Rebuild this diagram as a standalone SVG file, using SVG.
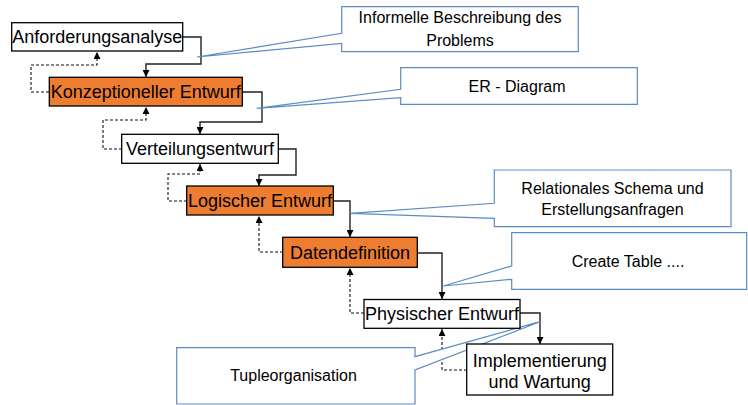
<svg xmlns="http://www.w3.org/2000/svg" width="748" height="405" viewBox="0 0 748 405">
<style>
.box{fill:#fff;stroke:#000;stroke-width:1.3}
.or{fill:#ED7D31;stroke:#000;stroke-width:1.3}
.nt{font-family:"Liberation Sans",Arial,sans-serif;font-size:18px;fill:#000;text-anchor:middle}
.co{fill:#fff;stroke:#5B8CC2;stroke-width:1.2;stroke-linejoin:miter}
.ct{font-family:"Liberation Sans",Arial,sans-serif;font-size:16px;fill:#000;text-anchor:middle}
.sol{fill:none;stroke:#222;stroke-width:1.4}
.dash{fill:none;stroke:#111;stroke-width:1.1;stroke-dasharray:3,2}
</style>
<defs>
<marker id="ah" viewBox="0 0 10 10" refX="10" refY="5" markerWidth="7" markerHeight="7" markerUnits="userSpaceOnUse" orient="auto">
<path d="M0,0 L10,5 L0,10 Z" fill="#000"/>
</marker>
</defs>
<g id="connectors">
<path class="sol" d="M183,37 H201 V64 H146 V77" marker-end="url(#ah)"/>
<path class="dash" d="M49,92 H31 V65 H97 V52" marker-end="url(#ah)"/>
<path class="sol" d="M242,92 H262 V122 H200 V134" marker-end="url(#ah)"/>
<path class="dash" d="M122,149 H103 V120 H146 V107" marker-end="url(#ah)"/>
<path class="sol" d="M278,149 H296 V175 H259 V186" marker-end="url(#ah)"/>
<path class="dash" d="M187,201 H168 V174 H200 V164" marker-end="url(#ah)"/>
<path class="sol" d="M333,201 H350 V237" marker-end="url(#ah)"/>
<path class="dash" d="M283,252 H259 V216" marker-end="url(#ah)"/>
<path class="sol" d="M417,253 H442 V299" marker-end="url(#ah)"/>
<path class="dash" d="M364,313 H350 V268" marker-end="url(#ah)"/>
<path class="sol" d="M520,313 H540 V344" marker-end="url(#ah)"/>
<path class="dash" d="M467,370 H442 V329" marker-end="url(#ah)"/>
</g>
<g id="callout-informelle">
<path class="co" d="M341.7,6.7 H578.3 V51.7 H341.7 V43.3 L197,57 L341.7,33.3 Z"/>
<text class="ct" x="460" y="23">Informelle Beschreibung des</text>
<text class="ct" x="460" y="45.5">Problems</text>
</g>
<g id="callout-er">
<path class="co" d="M400.7,67.7 H637.3 V104.3 H400.7 V97.7 L256.7,108.3 L400.7,89.3 Z"/>
<text class="ct" x="517" y="91.5">ER - Diagram</text>
</g>
<g id="callout-relational">
<path class="co" d="M494.3,170 H731 V226.7 H494.3 V218.3 L350,213.3 L494.3,203.3 Z"/>
<text class="ct" x="612.5" y="194">Relationales Schema und</text>
<text class="ct" x="612.5" y="214.5">Erstellungsanfragen</text>
</g>
<g id="callout-create">
<path class="co" d="M511.7,232.7 H746.7 V289.3 H511.7 V279.3 L443.3,286 L511.7,266 Z"/>
<text class="ct" x="628" y="267.3">Create Table ....</text>
</g>
<g id="callout-tuple">
<path class="co" d="M176.7,347.7 H415 V356.7 L540,321.7 L415,370 V404 H176.7 Z"/>
<text class="ct" x="293.5" y="381">Tupleorganisation</text>
</g>
<g id="node-anforderungsanalyse">
<rect class="box" x="11.7" y="22.7" width="171" height="28.3"/>
<text class="nt" x="97.2" y="43.4">Anforderungsanalyse</text>
</g>
<g id="node-konzeptioneller">
<rect class="or" x="49.3" y="77.3" width="193" height="28.7"/>
<text class="nt" x="145.8" y="98">Konzeptioneller Entwurf</text>
</g>
<g id="node-verteilungsentwurf">
<rect class="box" x="121.7" y="134.3" width="156.6" height="29"/>
<text class="nt" x="200" y="155">Verteilungsentwurf</text>
</g>
<g id="node-logischer">
<rect class="or" x="186.7" y="186" width="146.6" height="29"/>
<text class="nt" x="260" y="206.8">Logischer Entwurf</text>
</g>
<g id="node-datendefinition">
<rect class="or" x="282.7" y="237.3" width="134.6" height="30"/>
<text class="nt" x="350" y="258.5">Datendefinition</text>
</g>
<g id="node-physischer">
<rect class="box" x="364" y="299.5" width="156" height="28.8"/>
<text class="nt" x="442" y="320">Physischer Entwurf</text>
</g>
<g id="node-implementierung">
<rect class="box" x="466.7" y="344" width="146" height="51"/>
<text class="nt" x="539.7" y="367.3">Implementierung</text>
<text class="nt" x="539.7" y="388.3">und Wartung</text>
</g>
</svg>
